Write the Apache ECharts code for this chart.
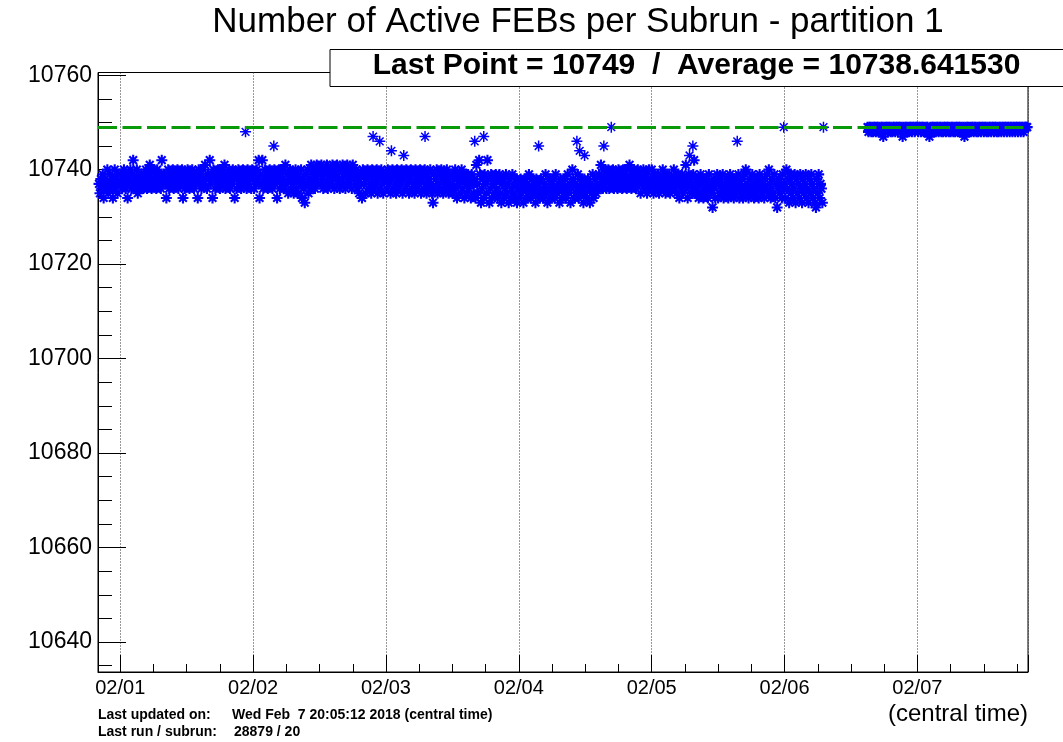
<!DOCTYPE html>
<html style="height: 100%">
<head>
  <meta charset="utf-8">
  <title>Active FEBs per Subrun</title>
</head>
<body style="height: 100%; margin: 0; background: #fff">
<div id="container" style="width: 1063px; height: 742px"></div>
<script src="https://cdn.jsdelivr.net/npm/echarts@6/dist/echarts.min.js"></script>
<script>
  // x is in days since 02/01 00:00 (central time), one point every 10 minutes
  var step = 10 / 1440;
  var base = 10730;            // stored values are offsets from this
  var lastPoint = 10749;
  var average = '10738.641530';
  var dayLabels = ['02/01', '02/02', '02/03', '02/04', '02/05', '02/06', '02/07'];

  var jan31 = [7,5,8,6,9,4,7,8,6,10,5,7,9,6,8,4,7,10,6,8,5,9,7];
  var feb01 = [
    7,9,6,8,10,7,6,9,4,8,7,10,6,9,12,7,8,6,10,5,9,7,8,6,
    8,6,9,7,10,6,8,9,11,7,6,10,8,7,9,6,10,8,7,9,6,12,8,7,
    9,7,4,8,10,6,9,7,8,10,6,9,8,7,10,6,8,9,7,10,4,8,6,9,
    7,10,8,6,9,7,10,8,6,9,7,8,4,10,7,9,6,8,10,7,11,8,6,9,
    8,12,7,9,4,10,8,6,9,7,10,8,6,9,7,10,8,11,6,9,7,8,10,6,
    9,7,10,8,4,9,6,8,10,7,9,6,8,10,7,9,8,6,10,7,9,8,6,10
  ];
  var feb02 = [
    8,6,9,7,10,8,12,4,9,7,12,6,8,10,7,9,6,8,10,7,9,6,8,10,
    7,9,4,8,10,6,9,7,8,10,6,11,7,9,5,8,10,6,9,7,5,8,10,6,
    9,5,8,7,10,4,8,6,3,9,7,10,5,8,6,11,7,9,10,6,8,11,7,9,
    10,7,11,8,6,9,10,7,11,6,8,9,10,7,11,8,6,9,10,11,7,8,6,10,
    8,11,7,9,6,10,11,8,7,9,10,6,11,8,9,7,10,6,8,5,9,7,4,10,
    7,9,5,8,10,6,9,7,5,10,8,6,9,7,10,5,8,6,9,10,7,5,8,9
  ];
  var feb03 = [
    8,6,10,7,9,5,8,10,6,9,7,5,10,8,6,9,7,10,5,8,9,6,10,7,
    9,5,8,10,6,9,7,5,10,8,6,9,7,10,5,8,9,6,10,7,5,9,8,6,
    10,7,5,3,9,6,8,10,5,7,9,6,10,8,5,9,7,6,10,8,5,9,7,6,
    9,5,8,10,6,4,9,7,8,5,10,6,9,4,8,7,5,9,6,8,4,9,7,5,
    8,4,11,7,5,12,9,3,6,8,4,9,7,5,12,8,3,6,9,4,7,8,5,9,
    6,4,8,9,5,3,7,8,4,6,9,5,7,3,8,4,6,9,5,7,4,8,3,6
  ];
  var feb04 = [
    6,4,8,5,7,3,6,8,4,7,5,9,6,4,8,5,7,6,3,8,5,7,4,6,
    8,5,6,4,7,9,5,3,6,8,4,7,5,6,8,4,9,6,5,7,3,8,6,4,
    7,5,8,4,6,9,5,7,3,6,10,8,4,7,5,6,9,4,8,5,7,6,3,8,
    5,7,4,8,6,3,7,5,9,4,6,8,5,7,6,9,7,11,8,6,10,7,9,6,
    8,10,6,9,7,8,10,6,9,7,8,6,10,9,7,8,6,10,7,9,8,6,10,7,
    11,8,6,9,10,7,8,6,9,10,7,8,5,9,7,10,6,8,9,5,7,10,6,8
  ];
  var feb05 = [
    10,7,5,9,6,8,7,9,5,6,8,7,10,6,9,5,8,7,6,9,5,8,7,6,
    10,6,8,5,9,7,4,8,6,9,5,7,8,11,6,4,9,7,8,5,6,9,12,7,
    5,8,6,4,7,9,5,8,4,6,7,5,8,4,9,6,7,5,2,8,6,4,7,9,
    4,7,8,5,6,9,4,7,5,8,6,4,7,9,5,8,6,4,7,5,8,6,9,4,
    7,5,8,4,6,9,10,5,7,4,8,6,5,9,7,4,6,8,5,7,4,9,6,8,
    5,7,4,8,6,9,5,10,7,4,6,8,5,9,4,7,2,6,8,5,7,4,9,6
  ];
  var feb06Early = [7,4,10,6,8,3,9,5,7,4,6,9,3,8,5,7,4,9,6,3,8,5,7,9,4,6,3,8,5,9,7,4,6,3,2,8,5,9,4,7,6,3];
  var feb06Late = [
    19,18,19,19,18,19,18,19,19,18,19,19,18,19,18,19,19,17,19,18,19,19,18,19,19,18,19,
    18,19,19,18,19,19,18,19,19,18,19,17,19,18,19,19,18,19,18,19,19,18,19,19,18,19,19
  ];
  var feb07 = [
    19,18,19,19,18,19,19,18,19,18,19,19,18,17,19,18,19,19,18,19,18,19,19,18,
    19,19,18,19,18,19,19,18,19,19,18,19,18,19,19,18,19,18,19,19,18,19,19,18,
    19,18,19,17,19,18,19,19,18,19,18,19,19,18,19,19,18,19,18,19,19,18,19,19,
    18,19,19,18,19,18,19,19,18,19,19,18,19,19,18,19,18,19,19,18,19,19,18,19,
    19,18,19,19,18,19,19,18,19,19,18,19,19,18,19,19,18,19,19,18,19,19,19,19
  ];
  // isolated subruns away from the band: [day, value]
  var outliers = [
    [0.943, 10748], [1.156, 10745], [1.903, 10747], [1.953, 10746], [2.041, 10744],
    [2.134, 10743], [2.294, 10747], [2.668, 10746], [2.736, 10747], [3.149, 10745],
    [3.437, 10746], [3.458, 10744], [3.495, 10743], [3.640, 10745], [3.696, 10749],
    [4.285, 10743], [4.310, 10745], [4.644, 10746], [4.994, 10749], [5.293, 10749]
  ];

  var blocks = [
    [-230 / 1440, jan31], [0, feb01], [1, feb02], [2, feb03], [3, feb04], [4, feb05],
    [5, feb06Early], [5 + 900 / 1440, feb06Late], [6, feb07]
  ];
  var points = [];
  blocks.forEach(function (b) {
    b[1].forEach(function (v, i) {
      points.push([b[0] + i * step, base + v]);
    });
  });

  var font = '"Liberation Sans", Arial, Helvetica, sans-serif';
  var star = 'path://M0,5L10,5M5,0L5,10M1.5,1.5L8.5,8.5M8.5,1.5L1.5,8.5';

  var chart = echarts.init(document.getElementById('container'));
  chart.setOption({
    animation: false,
    backgroundColor: '#fff',
    grid: { left: 98, right: 35, top: 72.5, bottom: 70, show: true, borderColor: '#000', borderWidth: 1, outerBoundsMode: 'none' },
    xAxis: {
      type: 'value',
      min: -0.1675,
      max: 6.8325,
      splitNumber: 7,
      axisLine: { show: true, onZero: false, lineStyle: { color: '#000', width: 1 } },
      axisTick: { show: true, inside: true, length: 17, lineStyle: { color: '#000' } },
      minorTick: { show: true, splitNumber: 4, length: 8, lineStyle: { color: '#000' } },
      splitLine: { show: true, lineStyle: { color: '#333', width: 1, type: [1, 2] } },
      axisLabel: {
        margin: 6,
        color: '#000',
        fontFamily: font,
        fontSize: 20,
        formatter: function (v) {
          var r = Math.round(v);
          return Math.abs(v - r) < 1e-6 && dayLabels[r] ? dayLabels[r] : '';
        }
      }
    },
    yAxis: {
      type: 'value',
      min: 10633.65,
      max: 10760.57,
      splitNumber: 6,
      axisLine: { show: true, onZero: false, lineStyle: { color: '#000', width: 1 } },
      axisTick: { show: true, inside: true, length: 28, lineStyle: { color: '#000' } },
      minorTick: { show: true, splitNumber: 4, length: 14, lineStyle: { color: '#000' } },
      splitLine: { show: false },
      axisLabel: {
        margin: 6,
        color: '#000',
        fontFamily: font,
        fontSize: 23,
        formatter: function (v) {
          var r = Math.round(v);
          return Math.abs(v - r) < 1e-6 && r % 20 === 0 ? String(r) : '';
        }
      }
    },
    series: [
      {
        type: 'scatter',
        data: points,
        symbol: star,
        symbolSize: 11,
        itemStyle: { color: '#0000ff', borderColor: '#0000ff', borderWidth: 2.1, opacity: 1 },
        emphasis: { disabled: true },
        z: 2
      },
      {
        type: 'scatter',
        data: outliers,
        symbol: star,
        symbolSize: 11,
        itemStyle: { color: '#0000ff', borderColor: '#0000ff', borderWidth: 1.5, opacity: 1 },
        emphasis: { disabled: true },
        z: 2
      },
      {
        type: 'line',
        data: [],
        z: 3,
        markLine: {
          silent: true,
          symbol: 'none',
          label: { show: false },
          lineStyle: { color: '#099a09', width: 3, type: [19, 5.5] },
          data: [{ yAxis: lastPoint }]
        }
      }
    ],
    graphic: [
      {
        type: 'text', x: 578, y: 22,
        style: { text: 'Number of Active FEBs per Subrun - partition 1', font: '35px ' + font, fill: '#000', textAlign: 'center', textVerticalAlign: 'middle', align: 'center', verticalAlign: 'middle' }
      },
      {
        type: 'rect', shape: { x: 330, y: 49.5, width: 740, height: 37 },
        style: { fill: '#fff', stroke: '#000', lineWidth: 1 }, z: 10
      },
      {
        type: 'text', x: 696.5, y: 66, z: 11,
        style: { text: 'Last Point = ' + lastPoint + '  /  Average = ' + average, font: 'bold 30px ' + font, fill: '#000', textAlign: 'center', textVerticalAlign: 'middle', align: 'center', verticalAlign: 'middle' }
      },
      {
        type: 'text', x: 1028, y: 714,
        style: { text: '(central time)', font: '24px ' + font, fill: '#000', textAlign: 'right', textVerticalAlign: 'middle', align: 'right', verticalAlign: 'middle' }
      },
      {
        type: 'text', x: 98, y: 715,
        style: { text: 'Last updated on:', font: 'bold 14px ' + font, fill: '#000', textVerticalAlign: 'middle', verticalAlign: 'middle' }
      },
      {
        type: 'text', x: 232, y: 715,
        style: { text: 'Wed Feb  7 20:05:12 2018 (central time)', font: 'bold 14px ' + font, fill: '#000', textVerticalAlign: 'middle', verticalAlign: 'middle' }
      },
      {
        type: 'text', x: 98, y: 732,
        style: { text: 'Last run / subrun:', font: 'bold 14px ' + font, fill: '#000', textVerticalAlign: 'middle', verticalAlign: 'middle' }
      },
      {
        type: 'text', x: 234, y: 732,
        style: { text: '28879 / 20', font: 'bold 14px ' + font, fill: '#000', textVerticalAlign: 'middle', verticalAlign: 'middle' }
      }
    ]
  });
</script>
</body>
</html>
